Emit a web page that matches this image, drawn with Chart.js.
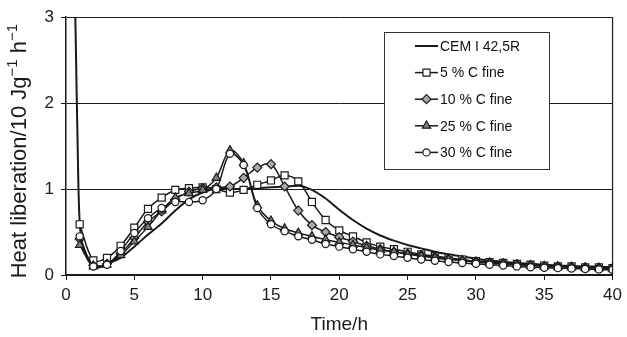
<!DOCTYPE html>
<html><head><meta charset="utf-8">
<script src="https://cdn.jsdelivr.net/npm/chart.js@4"></script>
<style>html,body{margin:0;padding:0;background:#fff}#wrap{width:627px;height:337px;position:relative}</style>
</head><body><div id="wrap"><canvas id="c" width="627" height="337"></canvas></div>
<script>
// ---- data ----
const seriesNames = ['CEM I 42,5R', '5 % C fine', '10 % C fine', '25 % C fine', '30 % C fine'];
const hours = [1,2,3,4,5,6,7,8,9,10,11,12,13,14,15,16,17,18,19,20,21,22,23,24,25,26,27,28,29,30,31,32,33,34,35,36,37,38,39,40];
const cemHours = [0.55,0.7,0.9,1,1.5,2,2.5,3,4,5,6,7,8,9,10,11,12,13,14,15,16,17,18,19,20,21,22,23,24,25,26,27,28,29,30,31,32,33,34,35,36,37,38,39,40];
const cemValues = [4.0,2.85,1.1,0.62,0.22,0.11,0.1,0.13,0.2,0.33,0.47,0.6,0.75,0.88,0.96,1.0,1.0,1.0,1.01,1.02,1.03,1.04,0.99,0.89,0.76,0.64,0.54,0.46,0.4,0.35,0.31,0.27,0.24,0.215,0.19,0.17,0.155,0.14,0.13,0.12,0.11,0.105,0.1,0.095,0.09];
const fine5 = [0.59,0.17,0.2,0.34,0.55,0.77,0.9,0.99,1.01,1.02,1.0,0.96,0.99,1.05,1.1,1.16,1.09,0.85,0.64,0.52,0.45,0.38,0.33,0.3,0.27,0.24,0.22,0.2,0.18,0.16,0.15,0.14,0.13,0.12,0.11,0.1,0.1,0.09,0.09,0.08];
const fine10 = [0.42,0.11,0.13,0.25,0.43,0.62,0.74,0.88,0.97,1.01,1.02,1.03,1.13,1.25,1.29,1.03,0.75,0.58,0.5,0.44,0.39,0.34,0.3,0.27,0.25,0.23,0.21,0.19,0.17,0.155,0.145,0.135,0.125,0.115,0.105,0.1,0.095,0.09,0.085,0.08];
const fine25 = [0.35,0.1,0.12,0.23,0.39,0.56,0.75,0.9,0.95,0.99,1.13,1.45,1.3,0.81,0.63,0.54,0.49,0.45,0.41,0.38,0.35,0.32,0.29,0.27,0.24,0.22,0.2,0.18,0.17,0.15,0.14,0.13,0.12,0.11,0.1,0.095,0.09,0.085,0.08,0.075];
const fine30 = [0.45,0.1,0.12,0.28,0.49,0.66,0.78,0.85,0.85,0.87,1.0,1.41,1.28,0.78,0.59,0.51,0.45,0.41,0.36,0.33,0.3,0.27,0.24,0.22,0.2,0.18,0.165,0.15,0.14,0.13,0.12,0.11,0.1,0.09,0.085,0.08,0.075,0.07,0.065,0.06];
const xTicks = [0,5,10,15,20,25,30,35,40];
const yTicks = [0,1,2,3];
const xTitle = 'Time/h';
const yTitleParts = [['Heat liberation/10 Jg', false], ['\u22121', true], [' h', false], ['\u22121', true]];

const FONT = '"Liberation Sans", Arial, Helvetica, sans-serif';
Chart.defaults.font.family = FONT;
Chart.defaults.color = '#1a1a1a';

const pts = (xs, ys) => xs.map((x, i) => ({x: x, y: ys[i]}));
const LINE = '#1a1a1a';

const datasets = [
  {label: seriesNames[0], data: pts(cemHours, cemValues), borderColor: LINE, borderWidth: 2, pointRadius: 0, cubicInterpolationMode: 'monotone', order: 4, mk: null},
  {label: seriesNames[1], data: pts(hours, fine5), borderColor: LINE, borderWidth: 1.5, tension: 0.35, pointStyle: 'rect', pointRadius: 5, pointBackgroundColor: '#ffffff', pointBorderColor: LINE, pointBorderWidth: 1.2, order: 3, mk: 'square'},
  {label: seriesNames[2], data: pts(hours, fine10), borderColor: LINE, borderWidth: 1.5, tension: 0.35, pointStyle: 'rectRot', pointRadius: 4.5, pointBackgroundColor: '#a9a9a9', pointBorderColor: LINE, pointBorderWidth: 1.2, order: 2, mk: 'diamond'},
  {label: seriesNames[3], data: pts(hours, fine25), borderColor: LINE, borderWidth: 1.5, tension: 0.35, pointStyle: 'triangle', pointRadius: 4.8, pointBackgroundColor: '#808080', pointBorderColor: LINE, pointBorderWidth: 1.2, order: 1, mk: 'triangle'},
  {label: seriesNames[4], data: pts(hours, fine30), borderColor: LINE, borderWidth: 1.5, tension: 0.35, pointStyle: 'circle', pointRadius: 3.6, pointBackgroundColor: '#ffffff', pointBorderColor: LINE, pointBorderWidth: 1.2, order: 0, mk: 'circle'}
];

function drawMarker(ctx, kind, x, y, r) {
  ctx.beginPath();
  if (kind === 'square') { const s = r * Math.SQRT1_2; ctx.rect(x - s, y - s, 2 * s, 2 * s); }
  else if (kind === 'diamond') { ctx.moveTo(x - r, y); ctx.lineTo(x, y - r); ctx.lineTo(x + r, y); ctx.lineTo(x, y + r); ctx.closePath(); }
  else if (kind === 'triangle') { ctx.moveTo(x, y - r); ctx.lineTo(x + r * Math.sin(2.0944), y - r * Math.cos(2.0944)); ctx.lineTo(x + r * Math.sin(4.18879), y - r * Math.cos(4.18879)); ctx.closePath(); }
  else { ctx.arc(x, y, r, 0, Math.PI * 2); }
  ctx.fill(); ctx.stroke();
}

const boxLegend = {
  id: 'boxLegend',
  afterDraw(chart) {
    const ctx = chart.ctx, a = chart.chartArea;
    ctx.save();
    // right frame line
    ctx.strokeStyle = '#1a1a1a'; ctx.lineWidth = 1.2;
    ctx.beginPath(); ctx.moveTo(a.right, a.top); ctx.lineTo(a.right, a.bottom); ctx.stroke();
    // y axis title with superscripts
    const big = '22px ' + FONT, small = '15px ' + FONT;
    let total = 0;
    yTitleParts.forEach(p => { ctx.font = p[1] ? small : big; total += ctx.measureText(p[0]).width; });
    ctx.save();
    ctx.translate(20, (a.top + a.bottom) / 2 + 5);
    ctx.rotate(-Math.PI / 2);
    ctx.fillStyle = '#1a1a1a'; ctx.textBaseline = 'middle'; ctx.textAlign = 'left';
    let xx = -total / 2;
    yTitleParts.forEach(p => {
      ctx.font = p[1] ? small : big;
      ctx.fillText(p[0], xx, p[1] ? -7 : 0);
      xx += ctx.measureText(p[0]).width;
    });
    ctx.restore();
    // legend box
    const L = 384.5, T = 32.5, W = 165, H = 137;
    ctx.fillStyle = '#fff'; ctx.fillRect(L, T, W, H);
    ctx.strokeStyle = '#333'; ctx.lineWidth = 1; ctx.strokeRect(L, T, W, H);
    chart.data.datasets.forEach((ds, i) => {
      const y = 46 + i * 26.6;
      ctx.strokeStyle = ds.borderColor; ctx.lineWidth = ds.borderWidth;
      ctx.beginPath(); ctx.moveTo(415, y); ctx.lineTo(438, y); ctx.stroke();
      if (ds.mk) {
        ctx.fillStyle = ds.pointBackgroundColor; ctx.strokeStyle = ds.pointBorderColor; ctx.lineWidth = ds.pointBorderWidth;
        drawMarker(ctx, ds.mk, 426.5, y, ds.pointRadius);
      }
      ctx.fillStyle = '#111'; ctx.font = '14px ' + FONT; ctx.textBaseline = 'middle'; ctx.textAlign = 'left';
      ctx.fillText(ds.label, 440, y + 1);
    });
    ctx.restore();
  }
};

new Chart(document.getElementById('c'), {
  type: 'line',
  data: {datasets: datasets},
  options: {
    responsive: false, animation: false, devicePixelRatio: 1,
    layout: {padding: {left: 0, top: 17, right: 13, bottom: 0}},
    plugins: {legend: {display: false}, tooltip: {enabled: false}},
    scales: {
      x: {
        type: 'linear', min: 0, max: 40,
        afterBuildTicks: s => { s.ticks = xTicks.map(v => ({value: v})); },
        afterFit: s => { s.height = 62; },
        ticks: {font: {size: 17}, color: '#1a1a1a', padding: 5, maxRotation: 0},
        grid: {drawOnChartArea: false, drawTicks: true, tickLength: 5, color: '#1a1a1a', lineWidth: 1},
        border: {display: true, color: '#1a1a1a', width: 2},
        title: {display: true, text: xTitle, font: {size: 19}, color: '#1a1a1a', padding: {top: 0, bottom: 1}}
      },
      y: {
        type: 'linear', min: 0, max: 3,
        afterBuildTicks: s => { s.ticks = yTicks.map(v => ({value: v})); },
        afterFit: s => { s.width = 66; },
        ticks: {font: {size: 17}, color: '#1a1a1a', padding: 7},
        grid: {drawOnChartArea: true, drawTicks: true, tickLength: 5, color: '#1a1a1a', lineWidth: 1},
        border: {display: true, color: '#1a1a1a', width: 1.5},
        title: {display: false}
      }
    }
  },
  plugins: [boxLegend]
});
</script>
</body></html>
